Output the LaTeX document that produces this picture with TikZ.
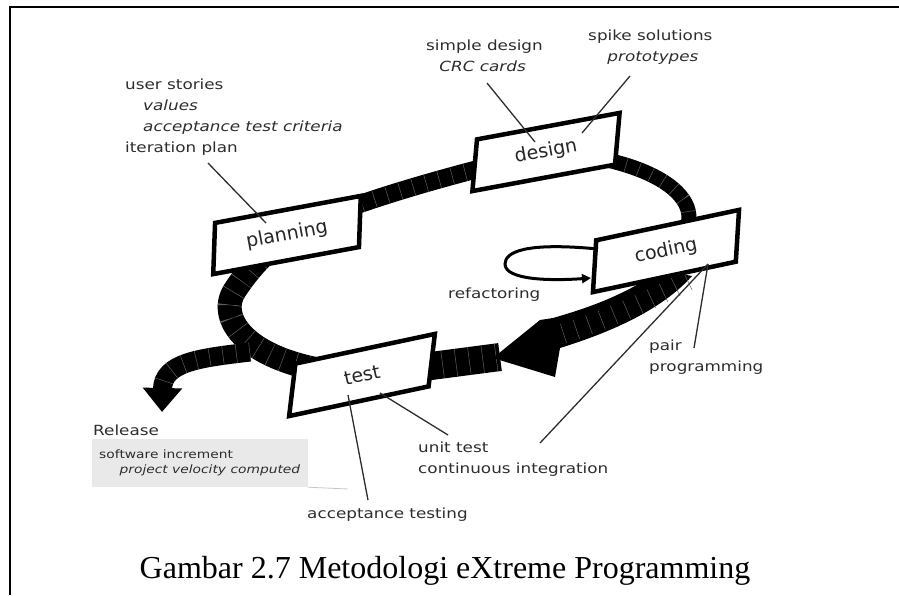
\documentclass[tikz,border=0pt]{standalone}
\usepackage{fontspec}
\setmainfont{DejaVu Sans}
\newfontfamily\capfont{Liberation Serif}
\usetikzlibrary{arrows.meta,shapes.geometric,calc,backgrounds}
\definecolor{ink}{RGB}{45,45,45}
\definecolor{rung}{RGB}{95,95,95}
\definecolor{relgrey}{RGB}{233,233,233}
\tikzset{
  phase/.style={trapezium,trapezium left angle=70,trapezium right angle=110,
    trapezium stretches=true,minimum width=160pt,minimum height=50pt,inner sep=0pt,
    draw=black,line width=4.5pt,fill=white,text=black!85,font=\fontsize{19}{19}\selectfont},
  note/.style={anchor=north west,inner sep=0pt,align=left,xscale=1.2,text=ink,
    font=\fontsize{14}{21}\selectfont},
  rungs/.style={draw=rung,dash pattern=on 0.5pt off 13pt},
  band/.style={draw=black,line width=#1,postaction={rungs,arrows=-}},
  callout/.style={draw=ink,line width=1.3pt},
}
\begin{document}
\begin{tikzpicture}[x=1pt,y=-1pt]
\useasboundingbox (0,0) rectangle (899,595);
\draw[line width=2.5pt] (10,595) -- (10,7) -- (899,7);

% the four phases
\node[phase,rotate=10.5] (planning) at (287,235) {planning};
\node[phase,rotate=10.5] (design) at (546,152) {design};
\node[phase,rotate=12] (coding) at (666,251) {coding};
\node[phase,rotate=12] (test) at (362,375) {test};

% the loop behind them
\begin{scope}[on background layer]
  \draw[band=18pt] (planning.center) .. controls (340,205) and (450,175) .. (design.center);
  \draw[band=15pt] (design.center) .. controls (665,158) and (725,210) .. (coding.center);
  \draw[band=24pt] (test.center) .. controls (250,368) and (215,320) .. (235,290)
    .. controls (245,275) and (260,255) .. (planning.center);
  \draw[draw=black,line width=19pt,-{Triangle[length=24pt 0 0,width=38pt 0 0]},
    postaction={rungs,arrows=-,shorten >=25pt}] (250,352) .. controls (200,358) and (163,362) .. (162,412);
  \draw[band=28pt] (test.center) -- (500,357);
  \fill (660,270) .. controls (630,292) and (595,306) .. (553,318) -- (540,320) -- (493,358)
    -- (555,377) -- (560,348) .. controls (605,334) and (660,312) .. (692,276) -- cycle;
  \draw[rungs,line width=20pt] (688,281) .. controls (640,305) and (600,322) .. (562,334);
\end{scope}

% refactoring loop
\coordinate (rf-out) at (598,249);
\coordinate (rf-in) at (591,278);
\draw[line width=3pt,-{Triangle[length=9pt 0 0,width=9pt 0 0]}] (rf-out)
  .. controls (525,242) and (505,252) .. (505,264) .. controls (505,280) and (550,281) .. (rf-in);

% notes
\node[note] (stories) at (125,74.3) {\strut user stories\\\hspace*{15pt}\textit{values}\\
  \hspace*{15pt}\textit{acceptance test criteria}\\iteration plan};
\node[note] (simple) at (426,35.3) {\strut simple design\\\hspace*{11pt}\textit{CRC cards}};
\node[note] (spike) at (588,25.3) {\strut spike solutions\\\hspace*{16pt}\textit{prototypes}};
\node[note] (refactor) at (448,283.3) {\strut refactoring};
\node[note] (pair) at (649,335.3) {\strut pair\\programming};
\node[note] (unit) at (418,437.3) {\strut unit test\\continuous integration};
\node[note] (accept) at (307,503.3) {\strut acceptance testing};
\node[note] (release) at (93,420.3) {\strut Release};
\node[fill=relgrey,minimum width=216pt,minimum height=48pt,inner sep=0pt] (relbox) at (200,463) {};
\node[note,font=\fontsize{11.5}{15}\selectfont] (increment) at (99,447.5)
  {\strut software increment\\\hspace*{17pt}\textit{project velocity computed}};

% callouts
\coordinate (iter-foot) at (208,163);
\coordinate (plan-pin) at (266,223);
\coordinate (simple-foot) at (487,83);
\coordinate (design-pin1) at (535,142);
\coordinate (spike-foot) at (630,76);
\coordinate (design-pin2) at (582,133);
\coordinate (code-pin) at (708,264);
\coordinate (pair-foot) at (694,348);
\coordinate (unit-foot) at (540,443);
\coordinate (test-pin1) at (380,393);
\coordinate (unit-foot2) at (448,435);
\coordinate (test-pin2) at (348,395);
\coordinate (accept-foot) at (368,500);
\coordinate (rel-foot) at (348,489);
\draw[callout] (iter-foot) -- (plan-pin);
\draw[callout] (simple-foot) -- (design-pin1);
\draw[callout] (spike-foot) -- (design-pin2);
\draw[callout] (code-pin) -- (pair-foot);
\draw[callout] (code-pin) -- (unit-foot);
\draw[callout] (test-pin1) -- (unit-foot2);
\draw[callout] (test-pin2) -- (accept-foot);
\draw[gray!45,line width=0.8pt] (relbox.south east) -- (rel-foot);

\node[anchor=base,font=\capfont\fontsize{32}{38}\selectfont] (caption) at (445,578)
  {Gambar 2.7 Metodologi eXtreme Programming};
\end{tikzpicture}
\end{document}
